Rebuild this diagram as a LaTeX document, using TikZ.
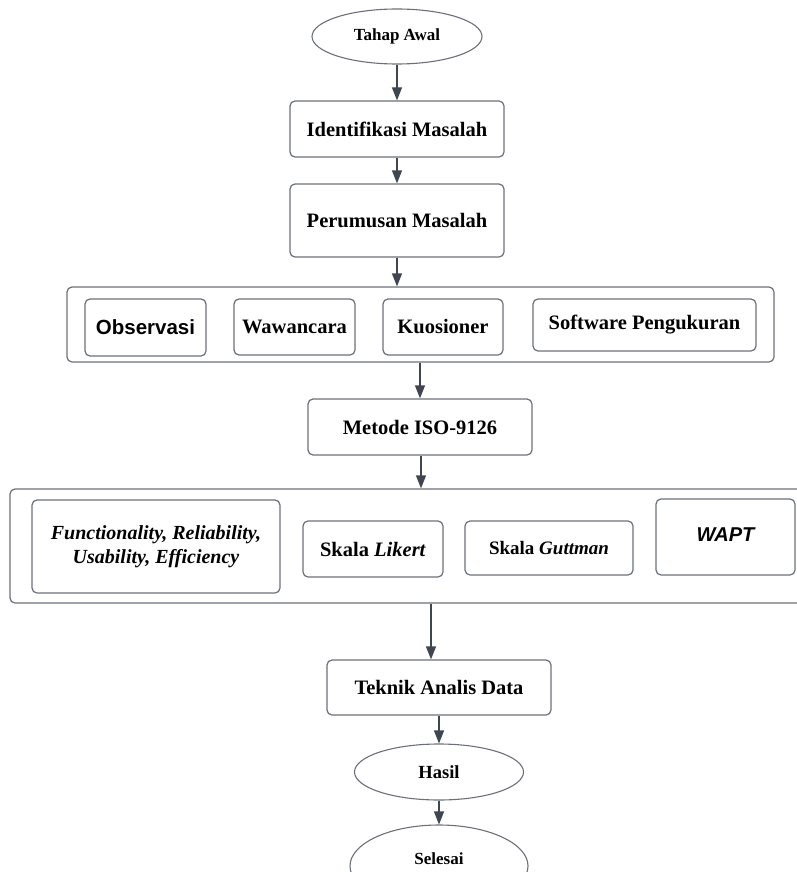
\documentclass[tikz,border=0pt]{standalone}
\usepackage{fontspec}
\setmainfont{Liberation Serif}
\newfontfamily\sansf{Liberation Sans}
\usetikzlibrary{arrows.meta,shapes.geometric}
\definecolor{boxline}{HTML}{6B7078}
\definecolor{arrowc}{HTML}{3F4650}
\begin{document}
\begin{tikzpicture}[x=1pt,y=-1pt,
  box/.style={draw=boxline,line width=1.2pt,rounded corners=5pt,inner sep=0pt,align=center,
    font=\fontsize{20.5}{24}\selectfont\bfseries},
  oval/.style={draw=boxline,ellipse,line width=1.1pt,inner sep=0pt,
    font=\fontsize{17}{20}\selectfont\bfseries},
  arr/.style={draw=arrowc,line width=1.2pt,-{Triangle[length=13pt,width=10pt]}}]
\useasboundingbox (0,0) rectangle (797,872);
% outer groups
\node[box,minimum width=707pt,minimum height=75pt] (outer1) at (420.5,324.5) {};
\node[box,minimum width=800pt,minimum height=114pt] (outer2) at (410,546) {};
% top flow
\node[oval,minimum width=170pt,minimum height=55pt] (tahap) at (397,36.5) {Tahap Awal};
\node[box,minimum width=214pt,minimum height=56pt] (ident) at (397,129) {Identifikasi Masalah};
\node[box,minimum width=214pt,minimum height=73pt] (perum) at (397,220.5) {Perumusan Masalah};
% group 1
\node[box,minimum width=121pt,minimum height=57pt,font=\fontsize{20.5}{24}\sansf\bfseries] (obs) at (145.5,327.5) {Observasi};
\node[box,minimum width=121pt,minimum height=56pt] (waw) at (294.5,327) {Wawancara};
\node[box,minimum width=120pt,minimum height=56pt] (kuo) at (443,327) {Kuosioner};
\node[box,minimum width=223pt,minimum height=52pt] (soft) at (644.5,325) {Software Pengukuran};
% metode
\node[box,minimum width=224pt,minimum height=56pt] (metode) at (420,427) {Metode ISO-9126};
% group 2
\node[box,minimum width=248pt,minimum height=93pt,font=\fontsize{20}{24}\selectfont\bfseries\itshape] (func) at (156,546.5) {Functionality, Reliability,\\Usability, Efficiency};
\node[box,minimum width=140pt,minimum height=56pt] (likert) at (373,549) {Skala \textit{Likert}};
\node[box,minimum width=168pt,minimum height=54pt,font=\fontsize{19}{23}\selectfont\bfseries] (guttman) at (549,548) {Skala \textit{Guttman}};
\node[box,minimum width=139pt,minimum height=76pt,font=\fontsize{20}{24}\sansf\bfseries\itshape] (wapt) at (725.5,537) {\raisebox{5pt}{WAPT}};
% bottom flow
\node[box,minimum width=224pt,minimum height=55pt] (teknik) at (439,687.5) {Teknik Analis Data};
\node[oval,minimum width=169pt,minimum height=56pt,font=\fontsize{18.5}{20}\selectfont\bfseries] (hasil) at (439,772) {Hasil};
\node[oval,minimum width=178pt,minimum height=82pt] (selesai) at (439,866) {\raisebox{14pt}{Selesai}};
% arrows
\draw[arr] (tahap.south) -- (ident.north);
\draw[arr] (ident.south) -- (perum.north);
\draw[arr] (perum.south) -- (perum.south |- outer1.north);
\draw[arr] (outer1.south -| metode.north) -- (metode.north);
\draw[arr] ([xshift=1pt]metode.south) -- ([xshift=1pt]metode.south |- outer2.north);
\draw[arr] ([xshift=-8pt]teknik.north |- outer2.south) -- ([xshift=-8pt]teknik.north);
\draw[arr] (teknik.south) -- (hasil.north);
\draw[arr] (hasil.south) -- (selesai.north);
\end{tikzpicture}
\end{document}
